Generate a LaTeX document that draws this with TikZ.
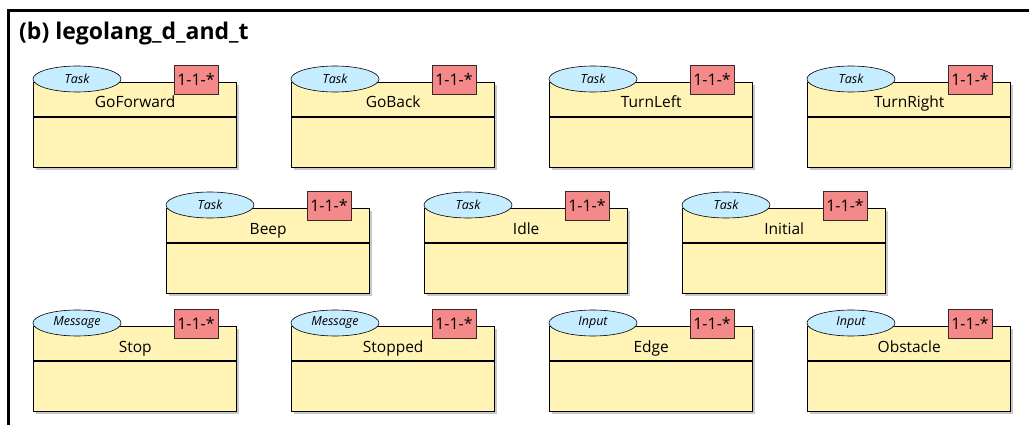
\documentclass[tikz,border=0pt]{standalone}
\usepackage{fontspec}
\setmainfont{Open Sans}
\usetikzlibrary{shapes.geometric,calc}
\definecolor{boxyellow}{RGB}{255,244,181}
\definecolor{stereoblue}{RGB}{197,236,255}
\definecolor{tagpink}{RGB}{244,137,137}
\definecolor{tagedge}{RGB}{60,40,40}
\definecolor{shadowgrey}{RGB}{200,200,200}
\tikzset{
  classbox/.style={draw=black, line width=1.4pt, fill=boxyellow, minimum width=203pt, minimum height=85pt, anchor=north west, inner sep=0pt},
  stereo/.style={ellipse, draw=black, line width=0.6pt, fill=stereoblue, minimum width=88pt, minimum height=26pt, inner sep=0pt, font=\fontsize{12.5}{14}\selectfont\itshape},
  tagbox/.style={draw=tagedge, line width=0.5pt, fill=tagpink, minimum width=44pt, minimum height=29pt, inner sep=0pt, font=\fontsize{16}{18}\selectfont},
  nametext/.style={font=\fontsize{15.5}{18}\selectfont, inner sep=0pt, anchor=base},
  sepline/.style={line width=1.4pt},
  framerule/.style={line width=3pt},
  titletext/.style={font=\fontsize{23}{27}\selectfont\bfseries, anchor=base west, inner sep=0pt}
}
\newcommand\umlclass[5]{%
  \fill[shadowgrey] (#2+3,#3+3) rectangle ++(203,85);
  \node[classbox] (#1) at (#2,#3) {};
  \draw[sepline] ($(#1.north west)+(0,35)$) -- ($(#1.north east)+(0,35)$);
  \node[nametext] (#1-name) at ($(#1.north)+(0,26)$) {#5};
  \node[stereo] (#1-st) at ($(#1.north west)+(44,-3)$) {#4};
  \node[tagbox] (#1-tag) at ($(#1.north west)+(163,-2.5)$) {1-1-*};
}
\begin{document}
\begin{tikzpicture}[x=1pt,y=-1pt]
\useasboundingbox (0,0) rectangle (1029,425);
\fill[white] (0,0) rectangle (1029,425);
\coordinate (fbl) at (8.5,425);
\coordinate (ftl) at (8.5,10.5);
\coordinate (ftr) at (1029,10.5);
\draw[framerule] (fbl) -- (ftl) -- (ftr);
\node[titletext] (title) at (19,40) {(b) legolang\_d\_and\_t};
% row 1
\umlclass{gofwd}{33}{82}{Task}{GoForward}
\umlclass{goback}{291}{82}{Task}{GoBack}
\umlclass{tleft}{549}{82}{Task}{TurnLeft}
\umlclass{tright}{807}{82}{Task}{TurnRight}
% row 2
\umlclass{beep}{166}{208}{Task}{Beep}
\umlclass{idle}{424}{208}{Task}{Idle}
\umlclass{initial}{682}{208}{Task}{Initial}
% row 3
\umlclass{stop}{33}{326}{Message}{Stop}
\umlclass{stopped}{291}{326}{Message}{Stopped}
\umlclass{edge}{549}{326}{Input}{Edge}
\umlclass{obstacle}{807}{326}{Input}{Obstacle}
\end{tikzpicture}
\end{document}
